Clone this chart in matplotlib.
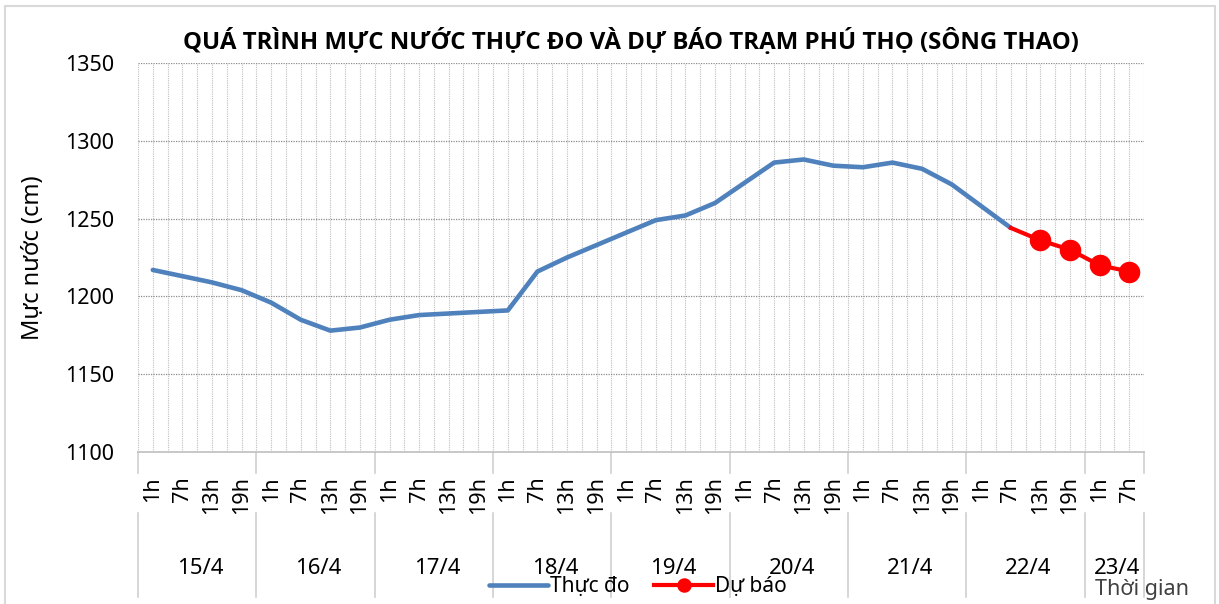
import matplotlib
matplotlib.use("Agg")
import matplotlib.pyplot as plt
from matplotlib.patches import Rectangle
from matplotlib.transforms import blended_transform_factory

plt.rcParams['font.family'] = ['Noto Sans', 'DejaVu Sans']

# ---- data ----
days = ["15/4", "16/4", "17/4", "18/4", "19/4", "20/4", "21/4", "22/4", "23/4"]
hours_per_day = [["1h", "7h", "13h", "19h"]] * 8 + [["1h", "7h"]]
observed = [1217, 1213, 1209, 1204, 1196, 1185, 1178, 1180,
            1185, 1188, 1189, 1190, 1191, 1216, 1225, 1233,
            1241, 1249, 1252, 1260, 1273, 1286, 1288, 1284,
            1283, 1286, 1282, 1272, 1258, 1244]
forecast = [1244, 1236, 1230, 1220, 1216]
forecast_start = 29

title = "QUÁ TRÌNH MỰC NƯỚC THỰC ĐO VÀ DỰ BÁO TRẠM PHÚ THỌ (SÔNG THAO)"
ylabel = "Mực nước (cm)"
xlabel = "Thời gian"
yticks = [1100, 1150, 1200, 1250, 1300, 1350]

hour_labels = [h for hs in hours_per_day for h in hs]
n = len(hour_labels)

W, H = 1219, 604
fig = plt.figure(figsize=(W / 100, H / 100), dpi=100)
fig.patch.set_facecolor("white")
fig.add_artist(Rectangle((5 / W, -0.01), (1215 - 5) / W, 1 - 6 / H + 0.01,
                         transform=fig.transFigure, fill=False,
                         edgecolor="#D9D9D9", lw=1.5))

x0, x1, y0, y1 = 138, 1144, 63, 452
ax = fig.add_axes([x0 / W, 1 - y1 / H, (x1 - x0) / W, (y1 - y0) / H])
ax.set_xlim(-0.5, n - 0.5)
ax.set_ylim(1100, 1350)

# grid
for k in range(2 * n + 1):
    xv = -0.5 + 0.5 * k
    ax.axvline(xv, color="#BFBFBF", lw=0.8, ls=(0, (1, 1)), zorder=1)
for yv in yticks[1:]:
    ax.axhline(yv, color="#8C8C8C", lw=0.9, ls=(0, (1, 1)), zorder=1)

for s in ["top", "right", "left"]:
    ax.spines[s].set_visible(False)
ax.spines["bottom"].set_color("#BFBFBF")
ax.spines["bottom"].set_linewidth(1.2)

ax.set_yticks(yticks)
ax.set_yticklabels([str(v) for v in yticks], fontsize=15.5, color="#000000")
ax.tick_params(axis="y", length=0, pad=17)
ax.set_xticks([])

# lines
xs_obs = list(range(len(observed)))
l1, = ax.plot(xs_obs, observed, color="#4F81BD", lw=3.3, solid_capstyle="round",
              solid_joinstyle="round", zorder=3, label="Thực đo")
xs_fc = list(range(forecast_start, forecast_start + len(forecast)))
l2, = ax.plot(xs_fc, forecast, color="#FF0000", lw=3.0, marker="o", ms=14.5,
              markevery=list(range(1, len(forecast))), zorder=4, label="Dự báo")

# category labels
tr = blended_transform_factory(ax.transData, fig.transFigure)
for i, lab in enumerate(hour_labels):
    ax.text(i, 1 - 476 / H, lab, transform=tr, rotation=90, rotation_mode="anchor",
            ha="right", va="center", fontsize=15.5)
idx = 0
bounds = [-0.5]
for d, hs in zip(days, hours_per_day):
    c = idx + (len(hs) - 1) / 2
    ax.text(c + 0.1, 1 - 568 / H, d, transform=tr, ha="center", va="center", fontsize=16)
    idx += len(hs)
    bounds.append(idx - 0.5)
for b in bounds:
    ax.plot([b, b], [1 - 452 / H, 1 - 473 / H], transform=tr, color="#D0D0D0",
            lw=1.2, clip_on=False)
    ax.plot([b, b], [1 - 513 / H, 1 - 597 / H], transform=tr, color="#D0D0D0",
            lw=1.2, clip_on=False)

fig.text(631 / W, 1 - 42 / H, title, ha="center", va="center",
         fontsize=17.3, fontweight="bold", family=["Open Sans", "DejaVu Sans"])
fig.text(33 / W, 1 - 258 / H, ylabel, rotation=90, ha="center", va="center",
         fontsize=17)
fig.text(1095 / W, 1 - 590 / H, xlabel, ha="left", va="center", fontsize=15.5,
         color="#404040")

leg = fig.legend(handles=[l1, l2], loc="center", bbox_to_anchor=(638 / W, 1 - 587 / H),
                 ncol=2, frameon=False, fontsize=15, handlelength=2.8,
                 handletextpad=0.1, columnspacing=1.2, markerscale=0.65,
                 borderpad=0, borderaxespad=0)

fig.savefig("out.png", dpi=100, facecolor="white")
